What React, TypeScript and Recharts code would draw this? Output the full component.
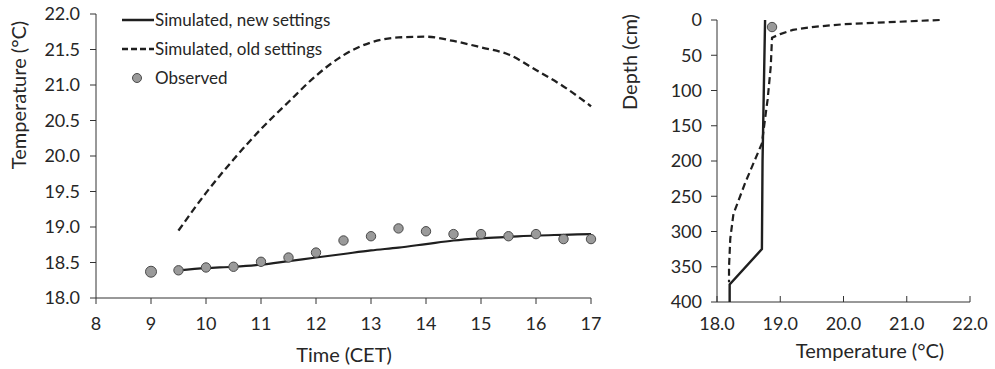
import React from "react";
import {
  ComposedChart,
  Line,
  XAxis,
  YAxis,
  ScatterChart,
  Scatter,
  Label,
} from "recharts";

// Left panel: temperature over the day
const times = [9, 9.5, 10, 10.5, 11, 11.5, 12, 12.5, 13, 13.5, 14, 14.5, 15, 15.5, 16, 16.5, 17];
const observed = [18.37, 18.39, 18.43, 18.44, 18.51, 18.57, 18.64, 18.81, 18.87, 18.98, 18.94, 18.9, 18.9, 18.87, 18.9, 18.83, 18.83];
const simNew = [null, 18.39, 18.42, 18.44, 18.47, 18.52, 18.57, 18.62, 18.67, 18.71, 18.76, 18.81, 18.84, 18.86, 18.88, 18.89, 18.9];
const simOld = [null, 18.95, 19.48, 19.95, 20.38, 20.76, 21.13, 21.42, 21.6, 21.67, 21.68, 21.62, 21.53, 21.43, 21.21, 20.98, 20.7];
const timeTicks = [8, 9, 10, 11, 12, 13, 14, 15, 16, 17];
const tempTicks = [18, 18.5, 19, 19.5, 20, 20.5, 21, 21.5, 22];

// Right panel: depth profile
const profileNew = [
  { temp: 18.76, depth: 0 },
  { temp: 18.74, depth: 100 },
  { temp: 18.72, depth: 200 },
  { temp: 18.71, depth: 325 },
  { temp: 18.2, depth: 375 },
  { temp: 18.2, depth: 400 },
];
const profileOld = [
  { temp: 21.52, depth: 0 },
  { temp: 21.0, depth: 2 },
  { temp: 20.5, depth: 4 },
  { temp: 20.0, depth: 6 },
  { temp: 19.5, depth: 10 },
  { temp: 19.2, depth: 14 },
  { temp: 19.0, depth: 20 },
  { temp: 18.87, depth: 25 },
  { temp: 18.85, depth: 66 },
  { temp: 18.8, depth: 113 },
  { temp: 18.76, depth: 140 },
  { temp: 18.71, depth: 175 },
  { temp: 18.45, depth: 230 },
  { temp: 18.26, depth: 275 },
  { temp: 18.21, depth: 310 },
  { temp: 18.19, depth: 350 },
  { temp: 18.19, depth: 372 },
];
const profileObs = [{ temp: 18.87, depth: 10 }];
const profTempTicks = [18, 19, 20, 21, 22];
const depthTicks = [0, 50, 100, 150, 200, 250, 300, 350, 400];

const FONT = "Lato, 'Open Sans', sans-serif";
const INK = "#262626";
const LINE = "#1f1f1f";
const DOT_FILL = "#9a9a9a";
const DOT_STROKE = "#4a4a4a";

const dayData = times.map((t, i) => ({
  t,
  obs: observed[i],
  newS: simNew[i],
  oldS: simOld[i],
}));

const tick = { fill: INK, fontSize: 18, fontFamily: FONT };
const axisStroke = { stroke: "#333", strokeWidth: 1 };

function LegendBox() {
  const row = (sample: React.ReactNode, text: string) => (
    <div style={{ display: "flex", alignItems: "center", height: 29 }}>
      <svg width={34} height={12} style={{ display: "block" }}>
        {sample}
      </svg>
      <span style={{ fontSize: 17, color: INK, fontFamily: FONT, lineHeight: "20px" }}>{text}</span>
    </div>
  );
  return (
    <div style={{ position: "absolute", left: 121, top: 5 }}>
      {row(<line x1={1} y1={6} x2={33} y2={6} stroke={LINE} strokeWidth={2.5} />, "Simulated, new settings")}
      {row(<line x1={1} y1={6} x2={33} y2={6} stroke={LINE} strokeWidth={2.5} strokeDasharray="6 3" />, "Simulated, old settings")}
      {row(<circle cx={16} cy={6} r={4.5} fill={DOT_FILL} stroke={DOT_STROKE} />, "Observed")}
    </div>
  );
}

const ObsDot = (props: any) => {
  const { cx, cy, index } = props;
  if (cx == null || cy == null) return <g key={index} />;
  return <circle key={index} cx={cx} cy={cy} r={index === 0 ? 5.5 : 4.7} fill={DOT_FILL} stroke={DOT_STROKE} strokeWidth={1} />;
};

export default function App() {
  return (
    <div style={{ position: "absolute", left: 0, top: 0, width: 995, height: 369, background: "#fff", fontFamily: FONT }}>
      <div style={{ position: "absolute", left: 0, top: 0 }}>
        <ComposedChart width={620} height={369} data={dayData} margin={{ top: 14, right: 29, bottom: 0, left: 0 }}>
          <XAxis
            dataKey="t"
            type="number"
            domain={[8, 17]}
            ticks={timeTicks}
            interval={0}
            tick={tick}
            axisLine={axisStroke}
            tickLine={axisStroke}
            tickSize={6}
            tickMargin={13}
            height={71}
          >
            <Label
              content={() => (
                <text x={344} y={362} textAnchor="middle" fontSize={20} fill={INK} fontFamily={FONT}>
                  Time (CET)
                </text>
              )}
            />
          </XAxis>
          <YAxis
            type="number"
            domain={[18, 22]}
            ticks={tempTicks}
            interval={0}
            tickFormatter={(v: number) => v.toFixed(1)}
            tick={tick}
            axisLine={axisStroke}
            tickLine={axisStroke}
            tickSize={6}
            tickMargin={10}
            width={96}
          >
            <Label
              content={() => (
                <text
                  x={26}
                  y={95}
                  transform="rotate(-90 26 95)"
                  textAnchor="middle"
                  fontSize={20}
                  fill={INK}
                  fontFamily={FONT}
                >
                  Temperature (°C)
                </text>
              )}
            />
          </YAxis>
          <Line dataKey="oldS" type="monotone" stroke={LINE} strokeWidth={2.3} strokeDasharray="7 4" dot={false} isAnimationActive={false} />
          <Line dataKey="newS" type="monotone" stroke={LINE} strokeWidth={2.2} dot={false} isAnimationActive={false} />
          <Line dataKey="obs" stroke="none" dot={ObsDot} activeDot={false} isAnimationActive={false} />
        </ComposedChart>
        <LegendBox />
      </div>
      <div style={{ position: "absolute", left: 560, top: 0 }}>
        <ScatterChart width={435} height={369} margin={{ top: 20, right: 25, bottom: 0, left: 0 }}>
          <XAxis
            dataKey="temp"
            type="number"
            domain={[18, 22]}
            ticks={profTempTicks}
            interval={0}
            tickFormatter={(v: number) => v.toFixed(1)}
            tick={tick}
            axisLine={axisStroke}
            tickLine={axisStroke}
            tickSize={-6}
            tickMargin={21}
            height={67}
          >
            <Label
              content={() => (
                <text x={310} y={358} textAnchor="middle" fontSize={20} fill={INK} fontFamily={FONT}>
                  Temperature (°C)
                </text>
              )}
            />
          </XAxis>
          <YAxis
            dataKey="depth"
            type="number"
            reversed
            domain={[0, 400]}
            ticks={depthTicks}
            interval={0}
            tick={tick}
            axisLine={axisStroke}
            tickLine={axisStroke}
            tickSize={6}
            tickMargin={9}
            width={157}
          >
            <Label
              content={() => (
                <text
                  x={77}
                  y={62}
                  transform="rotate(-90 77 62)"
                  textAnchor="middle"
                  fontSize={20}
                  fill={INK}
                  fontFamily={FONT}
                >
                  Depth (cm)
                </text>
              )}
            />
          </YAxis>
          <Scatter
            data={profileOld}
            fill={LINE}
            line={{ stroke: LINE, strokeWidth: 2.2, strokeDasharray: "7 4" }}
            shape={() => <g />}
            isAnimationActive={false}
          />
          <Scatter
            data={profileNew}
            fill={LINE}
            line={{ stroke: LINE, strokeWidth: 2.4 }}
            shape={() => <g />}
            isAnimationActive={false}
          />
          <Scatter
            data={profileObs}
            fill={DOT_FILL}
            shape={(p: any) => <circle cx={p.cx} cy={p.cy} r={4.7} fill={DOT_FILL} stroke={DOT_STROKE} strokeWidth={1} />}
            isAnimationActive={false}
          />
        </ScatterChart>
      </div>
    </div>
  );
}
